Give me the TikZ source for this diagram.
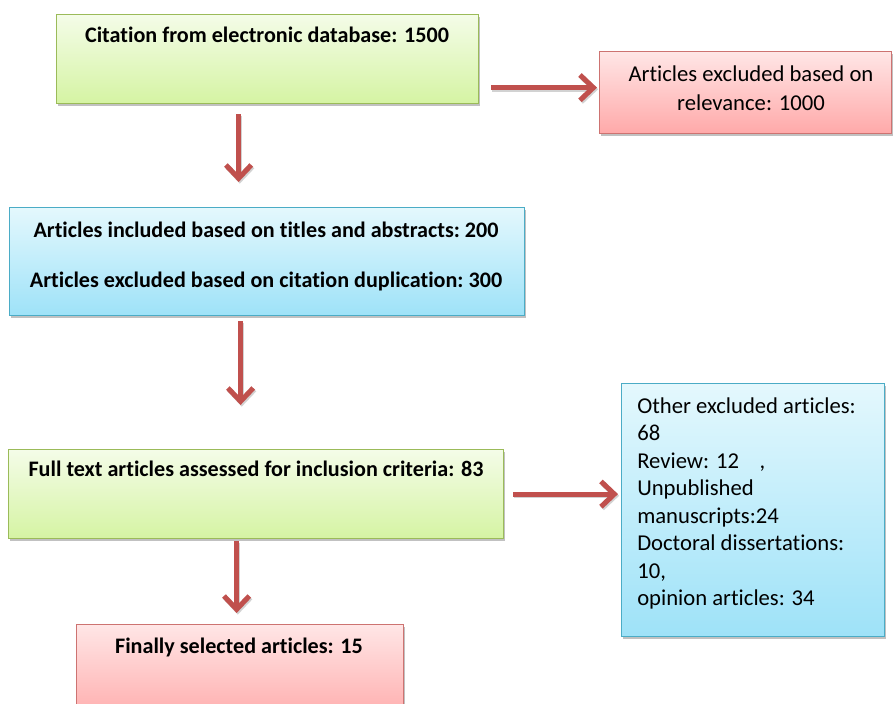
\documentclass[tikz,border=0pt]{standalone}
\usepackage{fontspec}
\setmainfont{Carlito}[Ligatures={NoCommon}]
\usetikzlibrary{positioning,arrows.meta,shadows}

\definecolor{greenedge}{HTML}{9BBB59}
\definecolor{greentop}{HTML}{F4FCE8}
\definecolor{greenbot}{HTML}{D5F4A3}
\definecolor{rededge}{HTML}{C0504D}
\definecolor{redtop}{HTML}{FFE6E6}
\definecolor{redbot}{HTML}{FFA9A9}
\definecolor{blueedge}{HTML}{4BACC6}
\definecolor{bluetop}{HTML}{E4F8FD}
\definecolor{bluebot}{HTML}{9EE2F8}
\definecolor{arrowred}{HTML}{C0504D}

\begin{document}
\begin{tikzpicture}[
  x=0.75pt, y=-0.75pt,
  font=\fontsize{17}{20}\selectfont,
  box/.style={rectangle, anchor=north west, line width=0.9pt, inner sep=0pt,
              drop shadow={shadow xshift=1.2pt, shadow yshift=-1.6pt,
                           opacity=.35, fill=black!70}},
  greenbox/.style={box, draw=greenedge, top color=greentop, bottom color=greenbot},
  redbox/.style={box, draw=rededge!80, top color=redtop, bottom color=redbot},
  bluebox/.style={box, draw=blueedge, top color=bluetop, bottom color=bluebot},
  bold/.style={font=\fontsize{16.6}{20}\selectfont\bfseries},
  arr/.style={draw=arrowred, line width=3.8pt,
              -{Straight Barb[length=10pt, width=19pt]},
              preaction={draw=black!35, line width=3.8pt, opacity=.5,
                         transform canvas={xshift=0.9pt, yshift=-1.2pt}}}
]
\clip (0,0) rectangle (894,704);
\useasboundingbox (0,0) rectangle (894,704);

% Boxes
\node[greenbox, minimum width=316.5pt, minimum height=66.75pt] (cite) at (56,14) {};
\node[redbox, minimum width=219pt, minimum height=61.5pt] (relev) at (599,51) {};
\node[bluebox, minimum width=386.25pt, minimum height=81pt] (incl) at (9,207) {};
\node[greenbox, minimum width=371.25pt, minimum height=66.75pt] (full) at (8,449) {};
\node[redbox, minimum width=245.25pt, minimum height=75pt] (final) at (76,624) {};
\node[bluebox, minimum width=197.25pt, minimum height=189.75pt] (other) at (621,383) {};

% Texts
\node[bold] (citetxt) at (267,35) {Citation from electronic database: 1500};
\node[align=center, font=\fontsize{17}{22}\selectfont] (relevtxt) at (751,88)
  {Articles excluded based on\\relevance: 1000};
\node[bold] (incltxt) at (266,230) {Articles included based on titles and abstracts:\ 200};
\node[bold] (duptxt) at (266,281) {Articles excluded based on citation duplication:\ 300};
\node[bold] (fulltxt) at (256,469) {Full text articles assessed for inclusion criteria: 83};
\node[bold] (finaltxt) at (239,647) {Finally selected articles: 15};
\node[anchor=north west, align=left, inner sep=0pt,
      font=\fontsize{17}{20.6}\selectfont] (othertxt) at (637,397.5)
  {Other excluded articles:\\68\\Review: 12\ \ \ \ ,\\Unpublished\\manuscripts:24\\Doctoral dissertations:\\10,\\opinion articles: 34};

% Arrows
\draw[arr, shorten <=9pt, shorten >=1.5pt]
  ([yshift=-21.4pt]cite.east) -- ([yshift=-21.4pt]cite.east -| relev.west);
\draw[arr, shorten <=7.5pt, shorten >=18.75pt]
  ([xshift=-21.75pt]cite.south) -- ([xshift=-21.75pt]cite.south |- incl.north);
\draw[arr, shorten <=3.75pt, shorten >=33pt]
  ([xshift=-19.9pt]incl.south) -- ([xshift=-19.9pt]incl.south |- full.north);
\draw[arr, shorten <=6.75pt, shorten >=2.25pt]
  (full.east) -- (full.east -| other.west);
\draw[arr, shorten <=1.5pt, shorten >=8.25pt]
  ([xshift=-14.6pt]full.south) -- ([xshift=-14.6pt]full.south |- final.north);
\end{tikzpicture}
\end{document}
